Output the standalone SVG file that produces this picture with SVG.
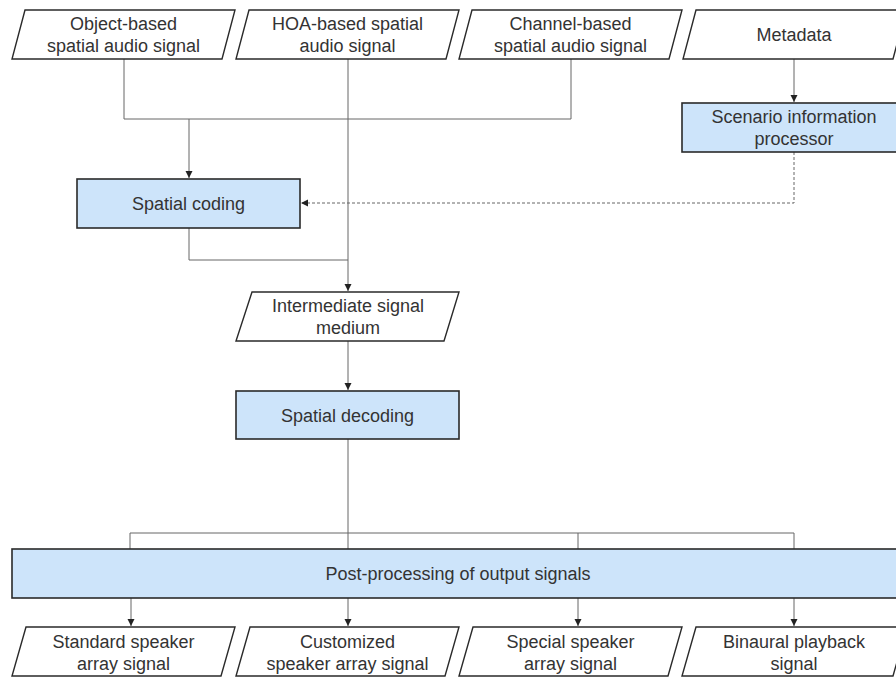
<svg xmlns="http://www.w3.org/2000/svg" width="896" height="678" viewBox="0 0 896 678">
  <style>
    .io { fill: #ffffff; stroke: #2a2a2a; stroke-width: 1.4; }
    .proc { fill: #cde4fa; stroke: #2a2a2a; stroke-width: 1.6; }
    .lbl { font-family: "Liberation Sans", Arial, sans-serif; font-size: 18px; fill: #333333; text-anchor: middle; }
    .wire { fill: none; stroke: #666666; stroke-width: 1; }
    .dash { stroke-dasharray: 3 2; }
  </style>
  <defs>
    <marker id="arrow" markerUnits="userSpaceOnUse" markerWidth="8" markerHeight="8" refX="7" refY="3.5" orient="auto">
      <path d="M0,0 L7,3.5 L0,7 z" fill="#222222"/>
    </marker>
  </defs>
  <rect width="896" height="678" fill="#ffffff"/>

  <!-- connectors -->
  <g id="connectors">
    <path class="wire" d="M124,59 V119 H571 M571,59 V119"/>
    <path class="wire" d="M189,119 V178" marker-end="url(#arrow)"/>
    <path class="wire" d="M348,59 V291" marker-end="url(#arrow)"/>
    <path class="wire" d="M189,228 V260 H348"/>
    <path class="wire" d="M794,59 V102" marker-end="url(#arrow)"/>
    <path class="wire dash" d="M794,152 V203 H301" marker-end="url(#arrow)"/>
    <path class="wire" d="M348,341 V390" marker-end="url(#arrow)"/>
    <path class="wire" d="M348,439 V549 M130,533 H794 M130,533 V549 M578,533 V549 M794,533 V549"/>
    <path class="wire" d="M131,598 V626" marker-end="url(#arrow)"/>
    <path class="wire" d="M348,598 V626" marker-end="url(#arrow)"/>
    <path class="wire" d="M578,598 V626" marker-end="url(#arrow)"/>
    <path class="wire" d="M794,598 V626" marker-end="url(#arrow)"/>
  </g>

  <!-- input signals -->
  <g id="object-input">
    <polygon class="io" points="25,10 235,10 222,59 12,59"/>
    <text class="lbl" x="123.5" y="30">Object-based</text>
    <text class="lbl" x="123.5" y="52">spatial audio signal</text>
  </g>
  <g id="hoa-input">
    <polygon class="io" points="249,10 459,10 446,59 236,59"/>
    <text class="lbl" x="347.5" y="30">HOA-based spatial</text>
    <text class="lbl" x="347.5" y="52">audio signal</text>
  </g>
  <g id="channel-input">
    <polygon class="io" points="472,10 682,10 669,59 459,59"/>
    <text class="lbl" x="570.5" y="30">Channel-based</text>
    <text class="lbl" x="570.5" y="52">spatial audio signal</text>
  </g>
  <g id="metadata">
    <polygon class="io" points="696,10 906,10 893,59 683,59"/>
    <text class="lbl" x="794" y="41">Metadata</text>
  </g>

  <!-- processing blocks -->
  <g id="scenario-processor">
    <rect class="proc" x="682" y="103" width="224" height="49"/>
    <text class="lbl" x="794" y="123">Scenario information</text>
    <text class="lbl" x="794" y="145">processor</text>
  </g>
  <g id="spatial-coding">
    <rect class="proc" x="77" y="179" width="223" height="49"/>
    <text class="lbl" x="188.5" y="210">Spatial coding</text>
  </g>
  <g id="intermediate-medium">
    <polygon class="io" points="252,292 459,292 444,341 236,341"/>
    <text class="lbl" x="348" y="312">Intermediate signal</text>
    <text class="lbl" x="348" y="334">medium</text>
  </g>
  <g id="spatial-decoding">
    <rect class="proc" x="236" y="391" width="223" height="48"/>
    <text class="lbl" x="347.5" y="422">Spatial decoding</text>
  </g>
  <g id="post-processing">
    <rect class="proc" x="12" y="549" width="898" height="49"/>
    <text class="lbl" x="458" y="580">Post-processing of output signals</text>
  </g>

  <!-- output signals -->
  <g id="standard-output">
    <polygon class="io" points="26,627 235,627 221,676 12,676"/>
    <text class="lbl" x="123.5" y="648">Standard speaker</text>
    <text class="lbl" x="123.5" y="670">array signal</text>
  </g>
  <g id="customized-output">
    <polygon class="io" points="250,627 459,627 445,676 236,676"/>
    <text class="lbl" x="347.5" y="648">Customized</text>
    <text class="lbl" x="347.5" y="670">speaker array signal</text>
  </g>
  <g id="special-output">
    <polygon class="io" points="473,627 682,627 668,676 459,676"/>
    <text class="lbl" x="570.5" y="648">Special speaker</text>
    <text class="lbl" x="570.5" y="670">array signal</text>
  </g>
  <g id="binaural-output">
    <polygon class="io" points="696,627 907,627 893,676 682,676"/>
    <text class="lbl" x="794" y="648">Binaural playback</text>
    <text class="lbl" x="794" y="670">signal</text>
  </g>
</svg>
